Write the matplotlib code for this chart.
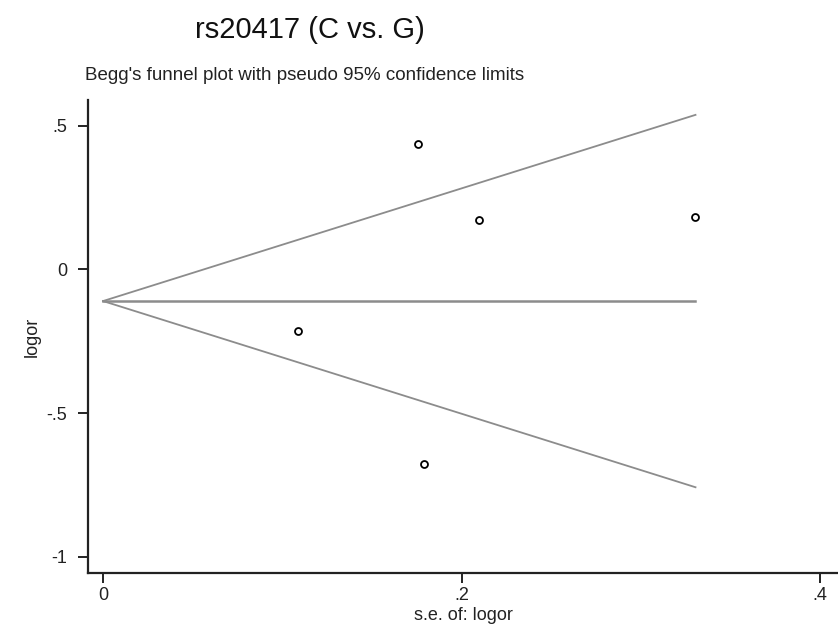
import numpy as np
import matplotlib
matplotlib.use('Agg')
import matplotlib.pyplot as plt

plt.rcParams['font.family'] = ['Liberation Sans', 'DejaVu Sans']

# study data
se = [0.1758, 0.2099, 0.3305, 0.1088, 0.1788]
logor = [0.4375, 0.172, 0.184, -0.213, -0.677]

# pooled estimate (horizontal line)
theta = -0.11

fig = plt.figure(figsize=(8.38, 6.32), dpi=100)
ax = fig.add_axes([0.105, 0.0934, 0.895, 0.7486])

# pseudo 95% limits
smax = max(se)
xs = np.array([0, smax])
ax.plot(xs, theta + 1.96 * xs, color='#8c8c8c', lw=1.3)
ax.plot(xs, theta - 1.96 * xs, color='#8c8c8c', lw=1.3)
ax.plot(xs, [theta, theta], color='#8c8c8c', lw=1.8)

ax.plot(se, logor, 'o', ms=5, mfc='white', mec='black', mew=1.3, ls='none')

ax.set_xlim(-0.0084, 0.41)
ax.set_ylim(-1.056, 0.59)
ax.set_xticks([0, 0.2, 0.4])
ax.set_xticklabels(['0', '.2', '.4'])
ax.set_yticks([-1, -0.5, 0, 0.5])
ax.set_yticklabels(['-1', '-.5', '0', '.5'])

for s in ['top', 'right']:
    ax.spines[s].set_visible(False)
for s in ['left', 'bottom']:
    ax.spines[s].set_linewidth(1.6)
    ax.spines[s].set_color('#222222')
ax.tick_params(axis='both', direction='out', length=7, width=1.4,
               colors='#222222', labelsize=13)
ax.tick_params(axis='y', pad=8)
ax.tick_params(axis='x', pad=3)

ax.set_xlabel('s.e. of: logor', fontsize=13, labelpad=2, color='#222222')
ax.set_ylabel('logor', fontsize=13, labelpad=4, color='#222222')

fig.text(310 / 838, 1 - 30 / 632, 'rs20417 (C vs. G)', fontsize=21,
         ha='center', va='center', color='#111111')
fig.text(85 / 838, 1 - 75 / 632,
         "Begg's funnel plot with pseudo 95% confidence limits",
         fontsize=13.5, ha='left', va='center', color='#222222')

fig.savefig('out.png', dpi=100)
